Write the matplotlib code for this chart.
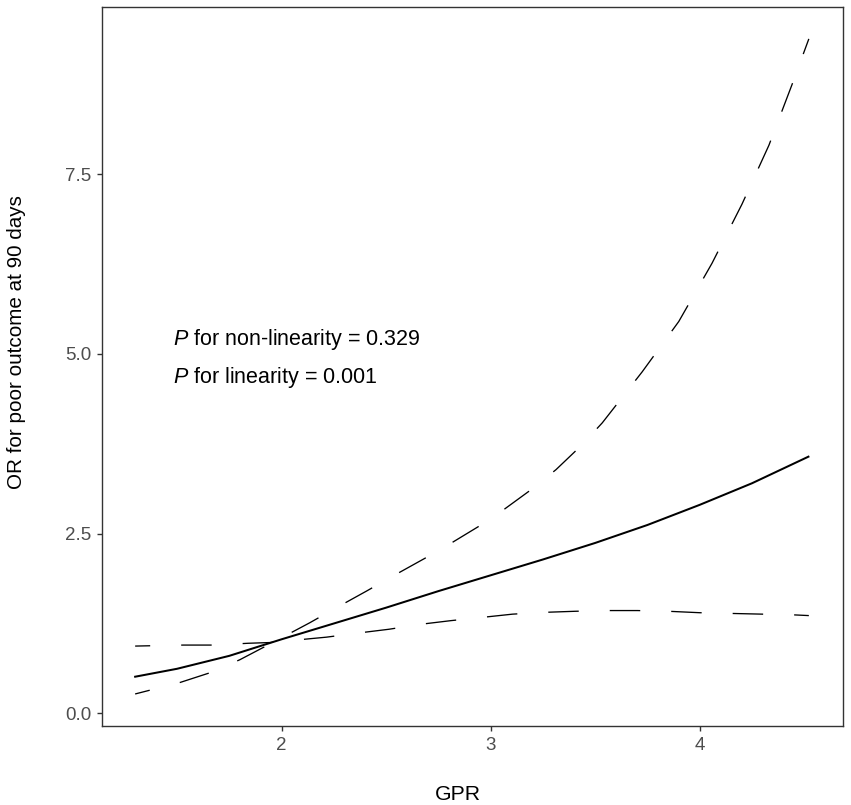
import matplotlib

matplotlib.use("Agg")
import matplotlib.pyplot as plt

plt.rcParams["font.family"] = ["Liberation Sans", "DejaVu Sans"]
plt.rcParams["mathtext.fontset"] = "custom"
plt.rcParams["mathtext.rm"] = "Liberation Sans"
plt.rcParams["mathtext.it"] = "Liberation Sans:italic"

# restricted cubic spline: OR estimate and 95% CI
gpr = [1.30, 1.50, 1.75, 2.00, 2.25, 2.50, 2.75, 3.00, 3.25, 3.50,
       3.75, 4.00, 4.25, 4.52]
or_est = [0.51, 0.62, 0.80, 1.03, 1.25, 1.47, 1.70, 1.92, 2.14, 2.37,
          2.62, 2.90, 3.20, 3.57]

gpr_hi = [1.30, 1.515, 1.658, 1.80, 1.928, 2.135, 2.263, 2.406, 2.533, 2.756,
          2.943, 3.066, 3.198, 3.313, 3.432, 3.534, 3.725, 3.90, 4.059, 4.202,
          4.331, 4.441, 4.522]
ci_hi = [0.27, 0.43, 0.565, 0.745, 0.94, 1.26, 1.47, 1.70, 1.91, 2.27,
         2.60, 2.84, 3.12, 3.39, 3.72, 4.04, 4.75, 5.45, 6.26, 7.08,
         7.90, 8.74, 9.38]

gpr_lo = [1.30, 1.53, 1.68, 1.84, 1.944, 2.07, 2.215, 2.374, 2.514, 2.668,
          2.811, 2.96, 3.105, 3.257, 3.405, 3.554, 3.702, 3.85, 4.00, 4.15,
          4.30, 4.45, 4.522]
ci_lo = [0.936, 0.95, 0.95, 0.975, 0.985, 1.02, 1.06, 1.12, 1.17, 1.24,
         1.29, 1.335, 1.38, 1.405, 1.42, 1.43, 1.43, 1.42, 1.40, 1.39,
         1.38, 1.37, 1.36]

x_ticks = [2, 3, 4]
y_ticks = [0.0, 2.5, 5.0, 7.5]
p_nonlinear = "0.329"
p_linear = "0.001"

fig = plt.figure(figsize=(8.51, 8.05), dpi=100)
ax = fig.add_axes([0.1195, 0.098, 0.871, 0.893])

dash = (11.7, (23.1, 23.5))
ax.plot(gpr, or_est, color="black", linewidth=1.45)
ax.plot(gpr_hi, ci_hi, color="black", linewidth=0.95, linestyle=dash)
ax.plot(gpr_lo, ci_lo, color="black", linewidth=0.95, linestyle=dash)

ax.text(1.481, 5.12, r"$P$ for non-linearity = " + p_nonlinear, fontsize=15.5,
        va="baseline", ha="left")
ax.text(1.481, 4.59, r"$P$ for linearity = " + p_linear, fontsize=15.5,
        va="baseline", ha="left")

ax.set_xlim(1.14, 4.685)
ax.set_ylim(-0.177, 9.82)
ax.set_xticks(x_ticks)
ax.set_xticklabels([str(t) for t in x_ticks])
ax.set_yticks(y_ticks)
ax.set_yticklabels([f"{t:.1f}" for t in y_ticks])

ax.tick_params(axis="both", direction="out", length=3.6, width=1.0,
               color="#333333", labelcolor="#4D4D4D", labelsize=13.5, pad=4)
for s in ax.spines.values():
    s.set_color("#333333")
    s.set_linewidth(1.0)

ax.set_xlabel("GPR", fontsize=15.3, color="black")
ax.set_ylabel("OR for poor outcome at 90 days", fontsize=14.9, color="black")
ax.xaxis.set_label_coords(0.481, -0.082)
ax.yaxis.set_label_coords(-0.102, 0.534)

fig.savefig("out.png", dpi=100)
plt.close(fig)
